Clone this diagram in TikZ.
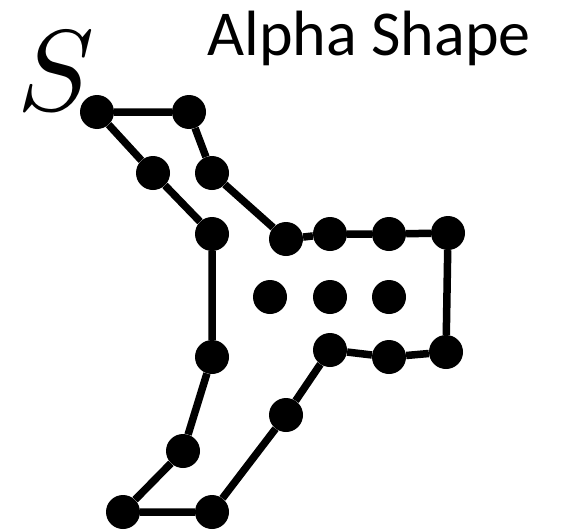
\documentclass[tikz,border=0pt]{standalone}
\usepackage{fontspec}
\setmainfont{Carlito}
\usetikzlibrary{positioning}

\begin{document}
\begin{tikzpicture}[x=1pt,y=-1pt,
                dot/.style={circle,fill=black,inner sep=0pt,minimum size=34pt},
                edge/.style={black,line width=7.5pt,line join=round}]
                \useasboundingbox (0,0) rectangle (562,530);
                % boundary points
                \node[dot] (a1)  at (97,112)  {};
                \node[dot] (a2)  at (189,112) {};
                \node[dot] (a3)  at (212,173) {};
                \node[dot] (a4)  at (286,239) {};
                \node[dot] (a5)  at (330,234) {};
                \node[dot] (a6)  at (389,234) {};
                \node[dot] (a7)  at (448,233) {};
                \node[dot] (a8)  at (446,352) {};
                \node[dot] (a9)  at (389,357) {};
                \node[dot] (a10) at (330,350) {};
                \node[dot] (a11) at (286,415) {};
                \node[dot] (a12) at (212,512) {};
                \node[dot] (a13) at (123,512) {};
                \node[dot] (a14) at (183,451) {};
                \node[dot] (a15) at (212,357) {};
                \node[dot] (a16) at (212,234) {};
                \node[dot] (a17) at (153,173) {};
                % interior points
                \node[dot] (c1)  at (270,297) {};
                \node[dot] (c2)  at (330,297) {};
                \node[dot] (c3)  at (389,297) {};
                % labels
                \node[anchor=base,inner sep=0pt] (title) at (369,55)
                     {\fontsize{64}{70}\selectfont Alpha Shape};
                \node[anchor=base,inner sep=0pt,scale=11.5] (start) at (56,110)
                     {$S$};
                \draw[edge] (a1)--(a2)--(a3)--(a4)--(a5)--(a6)--(a7)--(a8)
                            --(a9)--(a10)--(a11)--(a12)--(a13)--(a14)--(a15)
                            --(a16)--(a17)--(a1);
            \end{tikzpicture}
\end{document}
